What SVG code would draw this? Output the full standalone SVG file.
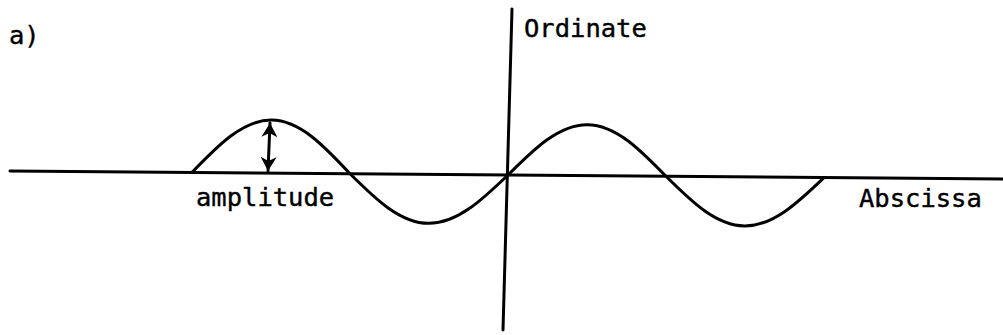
<svg xmlns="http://www.w3.org/2000/svg" width="1003" height="335" viewBox="0 0 1003 335">
<style>
.ln{fill:none;stroke:#000;stroke-width:3;stroke-linecap:round}
.tx{font-family:"DejaVu Sans Mono","Liberation Mono",monospace;font-size:25.5px;fill:#000;stroke:#000;stroke-width:0.4}
</style>
<defs>
<marker id="ah" markerUnits="userSpaceOnUse" markerWidth="16" markerHeight="16" refX="14" refY="8" orient="auto-start-reverse">
<path d="M0,0 L14,8 L0,16 L4,8 Z" fill="#000"/>
</marker>
</defs>
<rect width="1003" height="335" fill="#fff"/>
<g id="axes">
<line class="ln" x1="10" y1="171" x2="1003" y2="179"/>
<line class="ln" x1="512" y1="9" x2="503" y2="330"/>
</g>
<g id="wave">
<path class="ln" transform="translate(508,175) rotate(0.47)" d="M -316 0 C -290.24 -27.15 -265.59 -53 -237 -53 C -208.41 -53 -183.76 -27.15 -158 0 C -132.24 25.1 -107.59 49 -79 49 C -50.41 49 -25.76 25.1 0 0 C 25.76 -26.13 50.41 -51 79 -51 C 107.59 -51 132.24 -26.13 158 0 C 183.76 25.1 208.41 49 237 49 C 265.59 49 290.24 25.1 316 0"/>
</g>
<g id="amplitude-arrow">
<line class="ln" x1="270" y1="123" x2="268" y2="171" marker-start="url(#ah)" marker-end="url(#ah)"/>
</g>
<g id="labels">
<text class="tx" x="9" y="44">a)</text>
<text class="tx" x="524" y="37">Ordinate</text>
<text class="tx" x="196" y="206">amplitude</text>
<text class="tx" x="859" y="207">Abscissa</text>
</g>
</svg>
